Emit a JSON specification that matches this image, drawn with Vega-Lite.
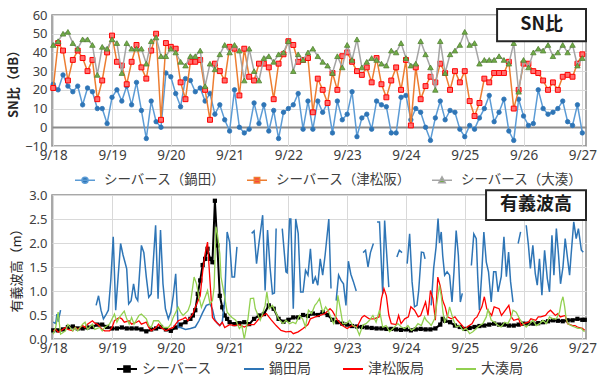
{
  "$schema": "https://vega.github.io/schema/vega-lite/v6.json",
  "padding": {"left": 6, "top": 7, "right": 0, "bottom": 0},
  "background": "white",
  "bounds": "flush",
  "spacing": 49,
  "resolve": {"scale": {"stroke": "independent"}, "legend": {"stroke": "independent"}},
  "config": {
    "font": "Noto Sans CJK JP",
    "view": {"stroke": "#8c8c8c", "strokeWidth": 1.5},
    "axis": {
      "labelFont": "Noto Sans",
      "labelFontSize": 13,
      "labelColor": "#404040",
      "labelOverlap": false,
      "gridColor": "#d9d9d9",
      "gridWidth": 1,
      "domain": false,
      "ticks": false,
      "titleFont": "Noto Sans CJK JP",
      "titleColor": "#262626"
    },
    "legend": {"labelFont": "Noto Sans CJK JP", "labelColor": "#404040", "labelLimit": 200}
  },
  "datasets": {
    "sn": [
      {"h":0,"a":23,"b":21,"c":44},{"h":2,"a":20,"b":45,"c":46},{"h":4,"a":28,"b":41,"c":50},{"h":6,"a":22,"b":25,"c":51},{"h":8,"a":19,"b":36,"c":45},{"h":10,"a":22,"b":41,"c":42},{"h":12,"a":12,"b":37,"c":47},{"h":14,"a":21,"b":30,"c":47},{"h":16,"a":19,"b":36,"c":44},{"h":18,"a":10,"b":15,"c":28},{"h":20,"a":10,"b":25,"c":43},{"h":22,"a":2,"b":40,"c":42},{"h":24,"a":16,"b":49,"c":47},
      {"h":26,"a":20,"b":35,"c":45},{"h":28,"a":14,"b":33,"c":29},{"h":30,"a":22,"b":23,"c":45},{"h":32,"a":12,"b":35,"c":42},{"h":34,"a":24,"b":44,"c":42},{"h":36,"a":9,"b":32,"c":42},{"h":38,"a":-6,"b":26,"c":34},{"h":40,"a":14,"b":41,"c":46},{"h":42,"a":3,"b":50,"c":48},{"h":44,"a":0,"b":4,"c":38},{"h":46,"a":29,"b":45,"c":38},{"h":48,"a":27,"b":43,"c":42},
      {"h":50,"a":18,"b":42,"c":40},{"h":52,"a":11,"b":24,"c":35},{"h":54,"a":26,"b":15,"c":33},{"h":56,"a":25,"b":35,"c":38},{"h":58,"a":19,"b":35,"c":38},{"h":60,"a":21,"b":36,"c":41},{"h":62,"a":14,"b":20,"c":22},{"h":64,"a":18,"b":4,"c":34},{"h":66,"a":7,"b":34,"c":31},{"h":68,"a":12,"b":30,"c":39},{"h":70,"a":4,"b":25,"c":44},{"h":72,"a":-2,"b":43,"c":40},
      {"h":74,"a":20,"b":42,"c":44},{"h":76,"a":0,"b":17,"c":41},{"h":78,"a":-3,"b":42,"c":25},{"h":80,"a":-1,"b":27,"c":42},{"h":82,"a":13,"b":25,"c":30},{"h":84,"a":2,"b":34,"c":25},{"h":86,"a":12,"b":34,"c":37},{"h":88,"a":-2,"b":32,"c":38},{"h":90,"a":9,"b":15,"c":35},{"h":92,"a":-6,"b":34,"c":39},{"h":94,"a":8,"b":39,"c":40},{"h":96,"a":10,"b":46,"c":46},
      {"h":98,"a":12,"b":44,"c":30},{"h":100,"a":18,"b":35,"c":39},{"h":102,"a":-1,"b":36,"c":36},{"h":104,"a":14,"b":37,"c":40},{"h":106,"a":-1,"b":8,"c":42},{"h":108,"a":14,"b":26,"c":38},{"h":110,"a":8,"b":20,"c":35},{"h":112,"a":13,"b":13,"c":33},{"h":114,"a":-3,"b":29,"c":29},{"h":116,"a":14,"b":20,"c":38},{"h":118,"a":4,"b":38,"c":32},{"h":120,"a":7,"b":40,"c":44},
      {"h":122,"a":19,"b":35,"c":36},{"h":124,"a":-5,"b":30,"c":47},{"h":126,"a":5,"b":28,"c":32},{"h":128,"a":7,"b":32,"c":35},{"h":130,"a":-1,"b":24,"c":37},{"h":132,"a":14,"b":37,"c":36},{"h":134,"a":12,"b":23,"c":34},{"h":136,"a":11,"b":16,"c":33},{"h":138,"a":-3,"b":25,"c":41},{"h":140,"a":-3,"b":32,"c":40},{"h":142,"a":16,"b":20,"c":45},{"h":144,"a":17,"b":36,"c":37},
      {"h":146,"a":4,"b":1,"c":33},{"h":148,"a":10,"b":32,"c":34},{"h":150,"a":8,"b":15,"c":46},{"h":152,"a":0,"b":22,"c":39},{"h":154,"a":-7,"b":27,"c":32},{"h":156,"a":5,"b":24,"c":20},{"h":158,"a":14,"b":34,"c":46},{"h":160,"a":4,"b":29,"c":29},{"h":162,"a":9,"b":20,"c":39},{"h":164,"a":8,"b":30,"c":41},{"h":166,"a":-1,"b":24,"c":44},{"h":168,"a":-5,"b":30,"c":51},
      {"h":170,"a":1,"b":14,"c":44},{"h":172,"a":-1,"b":6,"c":45},{"h":174,"a":5,"b":13,"c":34},{"h":176,"a":10,"b":26,"c":36},{"h":178,"a":17,"b":24,"c":36},{"h":180,"a":3,"b":29,"c":36},{"h":182,"a":8,"b":29,"c":38},{"h":184,"a":15,"b":29,"c":36},{"h":186,"a":-2,"b":35,"c":34},{"h":188,"a":-7,"b":10,"c":45},{"h":190,"a":15,"b":20,"c":19},{"h":192,"a":6,"b":34,"c":36},
      {"h":194,"a":1,"b":34,"c":32},{"h":196,"a":2,"b":30,"c":40},{"h":198,"a":20,"b":29,"c":42},{"h":200,"a":10,"b":25,"c":41},{"h":202,"a":7,"b":20,"c":44},{"h":204,"a":8,"b":24,"c":38},{"h":206,"a":10,"b":20,"c":40},{"h":208,"a":14,"b":27,"c":44},{"h":210,"a":3,"b":28,"c":40},{"h":212,"a":1,"b":27,"c":44},{"h":214,"a":12,"b":34,"c":33},{"h":216,"a":-3,"b":39,"c":37}
    ],
    "seaberth": [
      {"h":0,"v":0.18},{"h":2,"v":0.18},{"h":4,"v":0.2},{"h":6,"v":0.25},{"h":8,"v":0.26},{"h":10,"v":0.22},{"h":12,"v":0.22},{"h":14,"v":0.24},{"h":16,"v":0.25},{"h":18,"v":0.3},{"h":20,"v":0.3},{"h":22,"v":0.25},{"h":24,"v":0.22},
      {"h":26,"v":0.22},{"h":28,"v":0.24},{"h":30,"v":0.22},{"h":32,"v":0.22},{"h":34,"v":0.22},{"h":36,"v":0.2},{"h":38,"v":0.16},{"h":40,"v":0.2},{"h":42,"v":0.22},{"h":44,"v":0.25},{"h":46,"v":0.2},{"h":48,"v":0.17},
      {"h":50,"v":0.24},{"h":52,"v":0.3},{"h":54,"v":0.35},{"h":56,"v":0.42},{"h":57,"v":0.49},{"h":58,"v":0.6},{"h":59,"v":0.94},{"h":60,"v":1.22},{"h":61,"v":1.54},{"h":62,"v":1.67},{"h":63,"v":1.88},{"h":64,"v":1.67},{"h":65,"v":1.6},{"h":66,"v":2.88},{"h":67,"v":1.95},{"h":68,"v":0.9},{"h":69,"v":0.66},{"h":70,"v":0.49},{"h":71,"v":0.42},{"h":72,"v":0.35},
      {"h":74,"v":0.31},{"h":76,"v":0.33},{"h":78,"v":0.35},{"h":80,"v":0.31},{"h":82,"v":0.42},{"h":84,"v":0.49},{"h":86,"v":0.52},{"h":88,"v":0.7},{"h":90,"v":0.63},{"h":92,"v":0.42},{"h":94,"v":0.36},{"h":96,"v":0.4},
      {"h":98,"v":0.45},{"h":100,"v":0.45},{"h":102,"v":0.5},{"h":104,"v":0.48},{"h":106,"v":0.53},{"h":108,"v":0.5},{"h":110,"v":0.56},{"h":112,"v":0.5},{"h":114,"v":0.4},{"h":116,"v":0.35},{"h":118,"v":0.32},{"h":120,"v":0.3},
      {"h":122,"v":0.27},{"h":124,"v":0.26},{"h":126,"v":0.25},{"h":128,"v":0.24},{"h":130,"v":0.23},{"h":132,"v":0.22},{"h":134,"v":0.22},{"h":136,"v":0.21},{"h":138,"v":0.21},{"h":140,"v":0.2},{"h":142,"v":0.19},{"h":144,"v":0.2},
      {"h":146,"v":0.18},{"h":148,"v":0.2},{"h":150,"v":0.21},{"h":152,"v":0.2},{"h":154,"v":0.2},{"h":156,"v":0.22},{"h":158,"v":0.3},{"h":159,"v":0.42},{"h":160,"v":0.38},{"h":162,"v":0.35},{"h":164,"v":0.28},{"h":166,"v":0.25},{"h":168,"v":0.21},
      {"h":170,"v":0.23},{"h":172,"v":0.25},{"h":174,"v":0.27},{"h":176,"v":0.28},{"h":178,"v":0.3},{"h":180,"v":0.32},{"h":182,"v":0.3},{"h":184,"v":0.3},{"h":186,"v":0.28},{"h":188,"v":0.28},{"h":190,"v":0.3},{"h":192,"v":0.32},
      {"h":194,"v":0.32},{"h":196,"v":0.32},{"h":198,"v":0.33},{"h":200,"v":0.35},{"h":202,"v":0.37},{"h":204,"v":0.39},{"h":206,"v":0.38},{"h":208,"v":0.37},{"h":210,"v":0.39},{"h":212,"v":0.39},{"h":214,"v":0.42},{"h":216,"v":0.4},{"h":217,"v":0.4}
    ],
    "nabeta": [
      {"h":0,"v":0.35},{"h":1,"v":0.32},{"h":1.5,"v":0.52},{"h":2,"v":0.36},{"h":3,"v":0.6},{"h":4,"v":null},
      {"h":17.5,"v":0.7},{"h":18.5,"v":0.9},{"h":19.5,"v":0.6},{"h":20.5,"v":0.42},{"h":21.5,"v":0.5},{"h":22.5,"v":0.6},{"h":23.5,"v":1.22},{"h":24.5,"v":2.13},{"h":25.5,"v":0.6},{"h":26.5,"v":1.3},{"h":27.5,"v":1.99},{"h":28.5,"v":1.75},{"h":29.3,"v":1.6},{"h":30,"v":1.46},{"h":30.8,"v":0.73},{"h":31.8,"v":0.8},{"h":32.8,"v":1.15},{"h":33.7,"v":0.87},{"h":34.5,"v":0.8},{"h":36,"v":1.95},{"h":37,"v":1.8},{"h":38,"v":1.29},{"h":39,"v":0.87},{"h":40,"v":0.94},{"h":41.8,"v":2.37},{"h":42.8,"v":0.84},{"h":43.8,"v":2.27},{"h":44.8,"v":1.15},{"h":45.8,"v":0.63},{"h":47,"v":0.42},{"h":48,"v":0.56},{"h":49,"v":0.9},{"h":50,"v":1.36},{"h":51,"v":0.24},{"h":52,"v":0.24},{"h":54,"v":0.2},{"h":56,"v":0.22},{"h":58,"v":0.25},{"h":59.5,"v":0.38},{"h":61,"v":0.55},{"h":62.5,"v":0.7},{"h":64,"v":0.73},{"h":65,"v":0.62},{"h":66,"v":0.4},{"h":67,"v":0.33},{"h":68,"v":0.28},{"h":69,"v":0.35},{"h":70,"v":0.8},{"h":71,"v":2.23},{"h":72,"v":2.02},{"h":73,"v":1.29},{"h":74,"v":1.29},{"h":75,"v":1.92},{"h":76,"v":null},
      {"h":81,"v":2.2},{"h":82,"v":2.25},{"h":83,"v":1.57},{"h":84,"v":2.0},{"h":85.5,"v":2.58},{"h":86.5,"v":1.01},{"h":87.5,"v":2.27},{"h":88.5,"v":1.5},{"h":89.5,"v":0.94},{"h":90.3,"v":0.96},{"h":91,"v":2.3},{"h":92,"v":null},
      {"h":93.5,"v":2.3},{"h":95,"v":1.4},{"h":95.5,"v":1.38},{"h":96.5,"v":2.5},{"h":97,"v":2.5},{"h":98,"v":0.63},{"h":99,"v":2.5},{"h":100,"v":2.2},{"h":101,"v":0.98},{"h":102,"v":0.98},{"h":103,"v":1.43},{"h":104,"v":1.33},{"h":105,"v":1.88},{"h":106,"v":1.15},{"h":107,"v":1.29},{"h":108,"v":1.12},{"h":109,"v":1.67},{"h":110,"v":1.33},{"h":111,"v":1.75},{"h":112.5,"v":2.5},{"h":113.4,"v":1.05},{"h":114,"v":null},
      {"h":115.5,"v":0.8},{"h":116.5,"v":1.33},{"h":117.5,"v":1.22},{"h":118.5,"v":1.15},{"h":119.5,"v":0.7},{"h":120.5,"v":1.62},{"h":121.5,"v":1.35},{"h":122.5,"v":1.2},{"h":123.7,"v":1.0},{"h":125,"v":null},
      {"h":126.5,"v":1.8},{"h":127.5,"v":1.85},{"h":128.5,"v":1.5},{"h":129.5,"v":1.8},{"h":130.7,"v":1.99},{"h":131.5,"v":null},
      {"h":132.2,"v":2.44},{"h":133.2,"v":2.44},{"h":134.5,"v":0.94},{"h":135.3,"v":2.47},{"h":136,"v":1.88},{"h":137,"v":1.08},{"h":138,"v":null},
      {"h":140.3,"v":1.71},{"h":141.3,"v":1.85},{"h":142.4,"v":1.8},{"h":143.5,"v":null},
      {"h":144.5,"v":1.57},{"h":145.5,"v":2.19},{"h":146.5,"v":1.19},{"h":147.5,"v":0.67},{"h":148.5,"v":0.7},{"h":149.2,"v":1.01},{"h":150.3,"v":1.81},{"h":151.2,"v":1.8},{"h":151.8,"v":1.67},{"h":153,"v":null},
      {"h":154.3,"v":0.7},{"h":155.3,"v":1.47},{"h":156.3,"v":1.92},{"h":157.1,"v":2.51},{"h":157.7,"v":2.0},{"h":158.4,"v":2.23},{"h":159,"v":1.74},{"h":159.8,"v":1.33},{"h":160.8,"v":1.4},{"h":161.8,"v":1.33},{"h":162.8,"v":0.77},{"h":163.6,"v":1.4},{"h":164.5,"v":2.26},{"h":165.4,"v":1.74},{"h":166.2,"v":0.77},{"h":167,"v":0.95},{"h":168,"v":null},
      {"h":170.7,"v":1.53},{"h":171.7,"v":2.19},{"h":172.7,"v":2.09},{"h":173.3,"v":1.3},{"h":174,"v":0.6},{"h":174.9,"v":1.33},{"h":175.8,"v":2.23},{"h":176.8,"v":1.6},{"h":177.7,"v":1.4},{"h":178.8,"v":0.77},{"h":179.8,"v":1.4},{"h":180.7,"v":1.4},{"h":181.6,"v":0.98},{"h":182.9,"v":1.3},{"h":184,"v":2.13},{"h":185,"v":1.3},{"h":185.9,"v":1.81},{"h":186.7,"v":1.2},{"h":187.7,"v":0.77},{"h":188.8,"v":null},
      {"h":189.8,"v":1.99},{"h":190.8,"v":2.23},{"h":192,"v":null},
      {"h":193.1,"v":2.37},{"h":194,"v":1.95},{"h":194.8,"v":1.47},{"h":195.8,"v":1.95},{"h":196.8,"v":1.36},{"h":197.6,"v":1.12},{"h":198.5,"v":1.67},{"h":199.5,"v":0.91},{"h":200.6,"v":1.85},{"h":201.7,"v":1.26},{"h":202.6,"v":0.98},{"h":203.6,"v":2.16},{"h":204.4,"v":1.33},{"h":205.4,"v":2.3},{"h":206.3,"v":1.74},{"h":207.1,"v":1.15},{"h":208.1,"v":1.5},{"h":209,"v":2.09},{"h":209.8,"v":1.75},{"h":210.8,"v":1.33},{"h":211.4,"v":1.74},{"h":212.5,"v":2.44},{"h":213.5,"v":2.09},{"h":214.4,"v":2.3},{"h":215.6,"v":1.85},{"h":216.4,"v":1.81}
    ],
    "tsumatsusaka": [
      {"h":0,"v":0.17},{"h":1,"v":0.2},{"h":2,"v":0.14},{"h":3,"v":0.17},{"h":5,"v":0.24},{"h":6,"v":0.2},{"h":8,"v":0.17},{"h":9,"v":0.24},{"h":10,"v":0.2},{"h":12,"v":0.28},{"h":13,"v":0.24},{"h":14,"v":0.31},{"h":16,"v":0.38},{"h":17,"v":0.33},{"h":18,"v":0.31},{"h":20,"v":0.2},{"h":21,"v":0.17},{"h":23,"v":0.17},
      {"h":24,"v":0.24},{"h":25,"v":0.38},{"h":27,"v":0.45},{"h":28,"v":0.42},{"h":29,"v":0.35},{"h":31,"v":0.38},{"h":32,"v":0.31},{"h":34,"v":0.35},{"h":35,"v":0.38},{"h":36,"v":0.31},{"h":38,"v":0.35},{"h":39,"v":0.24},{"h":40,"v":0.17},{"h":42,"v":0.24},{"h":43,"v":0.31},{"h":44,"v":0.24},{"h":46,"v":0.17},{"h":47,"v":0.2},
      {"h":49,"v":0.24},{"h":50,"v":0.31},{"h":51,"v":0.38},{"h":53,"v":0.42},{"h":54,"v":0.45},{"h":55,"v":0.38},{"h":57,"v":0.52},{"h":58,"v":0.66},{"h":60,"v":0.9},{"h":61,"v":1.4},{"h":62,"v":1.78},{"h":63,"v":2.02},{"h":64,"v":1.2},{"h":65,"v":0.45},{"h":66,"v":0.38},{"h":68,"v":0.28},{"h":69,"v":0.35},{"h":70,"v":0.24},{"h":72,"v":0.3},
      {"h":74,"v":0.28},{"h":76,"v":0.3},{"h":78,"v":0.25},{"h":80,"v":0.3},{"h":82,"v":0.3},{"h":84,"v":0.42},{"h":86,"v":0.5},{"h":87,"v":0.53},{"h":89,"v":0.4},{"h":91,"v":0.28},{"h":93,"v":0.18},{"h":95,"v":0.15},
      {"h":97,"v":0.16},{"h":98,"v":0.11},{"h":100,"v":0.15},{"h":102,"v":0.22},{"h":104,"v":0.3},{"h":105,"v":0.42},{"h":107,"v":0.46},{"h":109,"v":0.49},{"h":111,"v":0.53},{"h":113,"v":0.63},{"h":114,"v":0.58},{"h":116,"v":0.4},{"h":118,"v":0.28},
      {"h":120,"v":0.22},{"h":122,"v":0.28},{"h":124,"v":0.25},{"h":126,"v":0.45},{"h":127,"v":0.49},{"h":129,"v":0.42},{"h":131,"v":0.42},{"h":133,"v":0.46},{"h":134,"v":0.84},{"h":135,"v":1.05},{"h":136,"v":0.9},{"h":137,"v":0.5},{"h":138,"v":0.32},{"h":140,"v":0.3},{"h":141,"v":0.49},{"h":142,"v":0.32},
      {"h":143.5,"v":0.42},{"h":145,"v":0.46},{"h":146,"v":0.67},{"h":147.5,"v":0.6},{"h":149,"v":0.46},{"h":150,"v":0.49},{"h":152,"v":0.77},{"h":153,"v":0.49},{"h":154,"v":1.01},{"h":155,"v":0.84},{"h":156,"v":0.39},{"h":157,"v":1.29},{"h":158,"v":1.1},{"h":159,"v":0.8},{"h":160,"v":0.67},{"h":161,"v":0.46},{"h":162.5,"v":0.42},{"h":164,"v":0.46},{"h":165,"v":0.39},{"h":167,"v":0.28},
      {"h":168,"v":0.21},{"h":169,"v":0.25},{"h":171,"v":0.32},{"h":172,"v":0.42},{"h":173,"v":0.46},{"h":175,"v":0.67},{"h":176,"v":0.88},{"h":177,"v":0.63},{"h":179,"v":0.49},{"h":180,"v":0.67},{"h":182,"v":0.63},{"h":183,"v":0.49},{"h":184,"v":0.56},{"h":186,"v":0.7},{"h":187,"v":0.46},{"h":188,"v":0.39},{"h":190,"v":0.42},{"h":191,"v":0.28},
      {"h":192,"v":0.32},{"h":194,"v":0.35},{"h":195,"v":0.42},{"h":197,"v":0.39},{"h":198,"v":0.46},{"h":199,"v":0.46},{"h":201,"v":0.49},{"h":202,"v":0.56},{"h":203,"v":0.6},{"h":205,"v":0.49},{"h":206,"v":0.53},{"h":207,"v":0.46},{"h":209,"v":0.49},{"h":210,"v":0.32},{"h":212,"v":0.28},{"h":213,"v":0.28},{"h":214,"v":0.25},{"h":216,"v":0.22},{"h":217,"v":0.18}
    ],
    "ominato": [
      {"h":0,"v":0.1},{"h":1,"v":0.24},{"h":2,"v":0.56},{"h":3,"v":0.1},{"h":5,"v":0.17},{"h":6,"v":0.3},{"h":8,"v":0.17},{"h":9,"v":0.24},{"h":10,"v":0.17},{"h":12,"v":0.31},{"h":13,"v":0.35},{"h":14,"v":0.2},{"h":16,"v":0.31},{"h":17,"v":0.2},{"h":19,"v":0.24},{"h":20,"v":0.17},{"h":21,"v":0.24},{"h":23,"v":0.31},
      {"h":25,"v":0.52},{"h":26,"v":0.35},{"h":27,"v":0.45},{"h":29,"v":0.58},{"h":30,"v":0.42},{"h":31,"v":0.31},{"h":32,"v":0.45},{"h":33,"v":0.31},{"h":35,"v":0.49},{"h":36,"v":0.52},{"h":38,"v":0.42},{"h":39,"v":0.28},{"h":40,"v":0.24},{"h":41,"v":0.38},{"h":43,"v":0.38},{"h":44,"v":0.31},{"h":45,"v":0.24},{"h":47,"v":0.24},
      {"h":48,"v":0.31},{"h":49,"v":0.45},{"h":51,"v":0.66},{"h":52,"v":0.56},{"h":53,"v":0.49},{"h":55,"v":0.59},{"h":56,"v":0.73},{"h":57.5,"v":1.29},{"h":58.5,"v":1.15},{"h":59.5,"v":0.87},{"h":60.5,"v":0.66},{"h":61,"v":0.73},{"h":63,"v":1.01},{"h":64,"v":0.73},{"h":65,"v":0.8},{"h":65.7,"v":1.08},{"h":66.4,"v":2.34},{"h":67,"v":2.2},{"h":68,"v":1.78},{"h":68.5,"v":1.29},{"h":70,"v":0.87},{"h":71,"v":0.56},
      {"h":72,"v":0.5},{"h":73,"v":0.45},{"h":74.5,"v":0.39},{"h":76,"v":0.22},{"h":77,"v":0.28},{"h":78,"v":0.0},{"h":79.5,"v":0.42},{"h":80.5,"v":0.84},{"h":81.8,"v":0.85},{"h":82.5,"v":0.63},{"h":84.5,"v":0.39},{"h":85.5,"v":0.53},{"h":86.5,"v":0.7},{"h":87.2,"v":0.98},{"h":88.2,"v":0.63},{"h":89.5,"v":0.7},{"h":90.8,"v":0.56},{"h":92,"v":0.42},{"h":93.8,"v":0.32},{"h":95,"v":0.39},
      {"h":96.5,"v":0.32},{"h":97.8,"v":0.35},{"h":99,"v":0.32},{"h":100.5,"v":0.49},{"h":101.8,"v":0.42},{"h":103,"v":0.25},{"h":104.2,"v":0.6},{"h":105.5,"v":0.53},{"h":106.8,"v":0.7},{"h":107.5,"v":0.74},{"h":108.7,"v":0.84},{"h":110,"v":0.56},{"h":110.5,"v":0.6},{"h":111.2,"v":0.67},{"h":112.5,"v":0.56},{"h":113.8,"v":0.39},{"h":114.5,"v":0.32},{"h":115.5,"v":0.49},{"h":116.2,"v":0.91},{"h":117.2,"v":0.63},{"h":118.2,"v":0.32},{"h":119.6,"v":0.32},
      {"h":121,"v":0.39},{"h":122.3,"v":0.28},{"h":123.7,"v":0.25},{"h":125,"v":0.08},{"h":126.4,"v":0.29},{"h":127.7,"v":0.32},{"h":129.1,"v":0.39},{"h":130.5,"v":0.49},{"h":131.8,"v":0.35},{"h":133.2,"v":0.6},{"h":134.5,"v":0.25},{"h":135.9,"v":0.28},{"h":137.3,"v":0.15},{"h":138.7,"v":0.22},{"h":140.7,"v":0.32},{"h":142.1,"v":0.25},{"h":143.5,"v":0.22},
      {"h":144.8,"v":0.28},{"h":146.2,"v":0.18},{"h":147.5,"v":0.22},{"h":148.9,"v":0.32},{"h":150.3,"v":0.28},{"h":151.6,"v":0.46},{"h":152.3,"v":0.39},{"h":153.7,"v":0.32},{"h":154.3,"v":0.28},{"h":155.7,"v":0.42},{"h":156.4,"v":0.67},{"h":157.7,"v":1.12},{"h":158.4,"v":0.9},{"h":159.1,"v":0.56},{"h":159.8,"v":0.35},{"h":161.1,"v":0.49},{"h":161.8,"v":0.67},{"h":163.2,"v":0.42},{"h":164.5,"v":0.25},{"h":165.9,"v":0.28},{"h":167.3,"v":0.18},
      {"h":168.6,"v":0.22},{"h":170,"v":0.11},{"h":171.3,"v":0.15},{"h":172.7,"v":0.22},{"h":174.1,"v":0.28},{"h":175.4,"v":0.32},{"h":176.8,"v":0.46},{"h":177.5,"v":0.63},{"h":178.8,"v":0.39},{"h":180.2,"v":0.35},{"h":181.6,"v":0.28},{"h":182.9,"v":0.25},{"h":184.3,"v":0.35},{"h":185.6,"v":0.32},{"h":187,"v":0.46},{"h":187.7,"v":0.6},{"h":189,"v":0.56},{"h":190.4,"v":0.42},{"h":191.8,"v":0.32},
      {"h":193.1,"v":0.25},{"h":194.5,"v":0.32},{"h":195.8,"v":0.39},{"h":197.2,"v":0.28},{"h":198.6,"v":0.32},{"h":199.9,"v":0.39},{"h":201.3,"v":0.32},{"h":202.6,"v":0.46},{"h":204,"v":0.42},{"h":205.4,"v":0.42},{"h":206.7,"v":0.56},{"h":207.4,"v":0.77},{"h":208.1,"v":0.88},{"h":208.8,"v":0.67},{"h":209.4,"v":0.42},{"h":210.1,"v":0.32},{"h":211.5,"v":0.28},{"h":212.8,"v":0.25},{"h":214.2,"v":0.22},{"h":215.6,"v":0.22},{"h":216.9,"v":0.15}
    ]
  },
  "vconcat": [
    {
      "width": 534,
      "height": 131,
      "layer": [
        {
          "data": {"name": "sn"},
          "transform": [{"fold": ["a", "b", "c"], "as": ["k", "v"]}],
          "encoding": {
            "x": {
              "field": "h", "type": "quantitative",
              "scale": {"domain": [-0.5, 217.5], "nice": false, "zero": false},
              "axis": {"values": [0, 24, 48, 72, 96, 120, 144, 168, 192, 216], "labelExpr": "'9/' + (18 + round(datum.value / 24))", "title": null, "labelPadding": 2, "labelFontSize": 13.5, "labelOverlap": false}
            },
            "y": {
              "field": "v", "type": "quantitative",
              "scale": {"domain": [-10, 60], "nice": false},
              "axis": {
                "values": [-10, 0, 10, 20, 30, 40, 50, 60],
                "labelOverlap": false,
                "title": "SN比（dB）", "titleFontWeight": "bold", "titleFontSize": 13, "titlePadding": 4, "labelPadding": 5,
                "gridColor": {"condition": {"test": "datum.value === 0", "value": "#8c8c8c"}, "value": "#d9d9d9"},
                "gridWidth": {"condition": {"test": "datum.value === 0", "value": 2}, "value": 1}
              }
            }
          },
          "layer": [
            {
              "transform": [{"filter": "datum.k === 'a'"}],
              "mark": {"type": "line", "strokeWidth": 1.5},
              "encoding": {
                "stroke": {
                  "datum": "シーバース（鍋田）",
                  "scale": {"domain": ["シーバース（鍋田）", "シーバース（津松阪）", "シーバース（大湊）"], "range": ["#5b9bd5", "#ed7d31", "#a5a5a5"]},
                  "legend": {
                    "orient": "none", "legendX": 22, "legendY": 154, "direction": "horizontal", "title": null,
                    "labelFontSize": 13.5, "symbolSize": 400, "labelOffset": 8, "columnPadding": 18,
                    "encode": {"symbols": {"update": {
                      "shape": {"signal": "datum.value === 'シーバース（鍋田）' ? 'M-1,0H1M-0.3,0A0.3,0.3,0,1,0,0.3,0A0.3,0.3,0,1,0,-0.3,0Z' : datum.value === 'シーバース（津松阪）' ? 'M-1,0H1M-0.27,-0.27H0.27V0.27H-0.27Z' : 'M-1,0H1M0,-0.34L0.32,0.24H-0.32Z'"},
                      "fill": {"signal": "datum.value === 'シーバース（鍋田）' ? '#2e75b6' : datum.value === 'シーバース（津松阪）' ? '#ff4040' : '#70ad47'"},
                      "strokeWidth": {"value": 1.5}
                    }}}
                  }
                }
              }
            },
            {
              "transform": [{"filter": "datum.k === 'a'"}],
              "mark": {"type": "point", "shape": "circle", "filled": true, "size": 20, "fill": "#2e75b6", "stroke": "#2e75b6", "strokeWidth": 0.8, "opacity": 1}
            },
            {
              "transform": [{"filter": "datum.k === 'b'"}],
              "mark": {"type": "line", "strokeWidth": 1.5},
              "encoding": {"stroke": {"datum": "シーバース（津松阪）"}}
            },
            {
              "transform": [{"filter": "datum.k === 'b'"}],
              "mark": {"type": "point", "shape": "square", "filled": true, "size": 24, "fill": "#ff6f6f", "stroke": "#ff0000", "strokeWidth": 1, "opacity": 1}
            },
            {
              "transform": [{"filter": "datum.k === 'c'"}],
              "mark": {"type": "line", "strokeWidth": 1.5},
              "encoding": {"stroke": {"datum": "シーバース（大湊）"}}
            },
            {
              "transform": [{"filter": "datum.k === 'c'"}],
              "mark": {"type": "point", "shape": "triangle-up", "filled": true, "size": 30, "fill": "#70ad47", "stroke": "#548235", "strokeWidth": 0.8, "opacity": 1}
            }
          ]
        },
        {
          "data": {"values": [{"t": "SN比"}]},
          "mark": {"type": "rect", "fill": "white", "stroke": "#262626", "strokeWidth": 2},
          "encoding": {
            "x": {"datum": 181.2, "type": "quantitative", "axis": {"values": [0, 24, 48, 72, 96, 120, 144, 168, 192, 216], "labelExpr": "'9/' + (18 + round(datum.value / 24))", "title": null, "labelPadding": 2, "labelFontSize": 13.5, "labelOverlap": false}},
            "x2": {"datum": 217.5},
            "y": {"datum": 63.2, "type": "quantitative", "axis": {
                "values": [-10, 0, 10, 20, 30, 40, 50, 60],
                "labelOverlap": false,
                "title": "SN比（dB）", "titleFontWeight": "bold", "titleFontSize": 13, "titlePadding": 4, "labelPadding": 5,
                "gridColor": {"condition": {"test": "datum.value === 0", "value": "#8c8c8c"}, "value": "#d9d9d9"},
                "gridWidth": {"condition": {"test": "datum.value === 0", "value": 2}, "value": 1}
              }},
            "y2": {"datum": 46}
          }
        },
        {
          "data": {"values": [{"t": "SN比"}]},
          "mark": {"type": "text", "font": "Noto Sans CJK JP", "fontSize": 18, "fontWeight": "bold", "color": "#1a1a1a", "align": "center", "baseline": "middle"},
          "encoding": {
            "x": {"datum": 199.4, "type": "quantitative", "axis": {"values": [0, 24, 48, 72, 96, 120, 144, 168, 192, 216], "labelExpr": "'9/' + (18 + round(datum.value / 24))", "title": null, "labelPadding": 2, "labelFontSize": 13.5, "labelOverlap": false}},
            "y": {"datum": 54.8, "type": "quantitative", "axis": {
                "values": [-10, 0, 10, 20, 30, 40, 50, 60],
                "labelOverlap": false,
                "title": "SN比（dB）", "titleFontWeight": "bold", "titleFontSize": 13, "titlePadding": 4, "labelPadding": 5,
                "gridColor": {"condition": {"test": "datum.value === 0", "value": "#8c8c8c"}, "value": "#d9d9d9"},
                "gridWidth": {"condition": {"test": "datum.value === 0", "value": 2}, "value": 1}
              }},
            "text": {"field": "t"}
          }
        }
      ]
    },
    {
      "width": 534,
      "height": 144,
      "layer": [
        {
          "encoding": {
            "x": {
              "field": "h", "type": "quantitative",
              "scale": {"domain": [-0.5, 217.5], "nice": false, "zero": false},
              "axis": {"values": [0, 24, 48, 72, 96, 120, 144, 168, 192, 216], "labelExpr": "'9/' + (18 + round(datum.value / 24))", "title": null, "labelPadding": 2, "labelFontSize": 13.5, "labelOverlap": false}
            },
            "y": {
              "field": "v", "type": "quantitative",
              "scale": {"domain": [0, 3], "nice": false},
              "axis": {"values": [0, 0.5, 1, 1.5, 2, 2.5, 3], "format": ".1f", "labelOverlap": false, "title": "有義波高（m）", "titleFontWeight": "normal", "titleFontSize": 13, "titlePadding": 5, "labelPadding": 5}
            }
          },
          "layer": [
            {
              "data": {"name": "seaberth"},
              "mark": {"type": "line", "strokeWidth": 2},
              "encoding": {
                "stroke": {
                  "datum": "シーバース",
                  "scale": {"domain": ["シーバース", "鍋田局", "津松阪局", "大湊局"], "range": ["#000000", "#2e75b6", "#ff0000", "#92d050"]},
                  "legend": {
                    "orient": "none", "legendX": 64, "legendY": 163, "direction": "horizontal", "title": null,
                    "labelFontSize": 14, "symbolSize": 400, "labelOffset": 4, "columnPadding": 28,
                    "encode": {"symbols": {"update": {
                      "shape": {"signal": "datum.value === 'シーバース' ? 'M-1,0H1M-0.28,-0.28H0.28V0.28H-0.28Z' : 'M-1,0H1'"},
                      "fill": {"signal": "datum.value === 'シーバース' ? '#000000' : 'transparent'"},
                      "strokeWidth": {"value": 2}
                    }}}
                  }
                }
              }
            },
            {
              "data": {"name": "seaberth"},
              "mark": {"type": "point", "shape": "square", "filled": true, "size": 18, "color": "#000000", "opacity": 1}
            },
            {
              "data": {"name": "nabeta"},
              "mark": {"type": "line", "strokeWidth": 1.5, "invalid": "break-paths-filter-domains"},
              "encoding": {"stroke": {"datum": "鍋田局"}}
            },
            {
              "data": {"name": "tsumatsusaka"},
              "mark": {"type": "line", "strokeWidth": 1.3},
              "encoding": {"stroke": {"datum": "津松阪局"}}
            },
            {
              "data": {"name": "ominato"},
              "mark": {"type": "line", "strokeWidth": 1.3},
              "encoding": {"stroke": {"datum": "大湊局"}}
            }
          ]
        },
        {
          "data": {"values": [{"t": "有義波高"}]},
          "mark": {"type": "rect", "fill": "white", "stroke": "#262626", "strokeWidth": 2},
          "encoding": {
            "x": {"datum": 176.7, "type": "quantitative", "axis": {"values": [0, 24, 48, 72, 96, 120, 144, 168, 192, 216], "labelExpr": "'9/' + (18 + round(datum.value / 24))", "title": null, "labelPadding": 2, "labelFontSize": 13.5, "labelOverlap": false}},
            "x2": {"datum": 217.5},
            "y": {"datum": 3.1, "type": "quantitative", "axis": {"values": [0, 0.5, 1, 1.5, 2, 2.5, 3], "format": ".1f", "labelOverlap": false, "title": "有義波高（m）", "titleFontWeight": "normal", "titleFontSize": 13, "titlePadding": 5, "labelPadding": 5}},
            "y2": {"datum": 2.48}
          }
        },
        {
          "data": {"values": [{"t": "有義波高"}]},
          "mark": {"type": "text", "font": "Noto Sans CJK JP", "fontSize": 18, "fontWeight": "bold", "color": "#1a1a1a", "align": "center", "baseline": "middle"},
          "encoding": {
            "x": {"datum": 197.1, "type": "quantitative", "axis": {"values": [0, 24, 48, 72, 96, 120, 144, 168, 192, 216], "labelExpr": "'9/' + (18 + round(datum.value / 24))", "title": null, "labelPadding": 2, "labelFontSize": 13.5, "labelOverlap": false}},
            "y": {"datum": 2.79, "type": "quantitative", "axis": {"values": [0, 0.5, 1, 1.5, 2, 2.5, 3], "format": ".1f", "labelOverlap": false, "title": "有義波高（m）", "titleFontWeight": "normal", "titleFontSize": 13, "titlePadding": 5, "labelPadding": 5}},
            "text": {"field": "t"}
          }
        }
      ]
    }
  ]
}
